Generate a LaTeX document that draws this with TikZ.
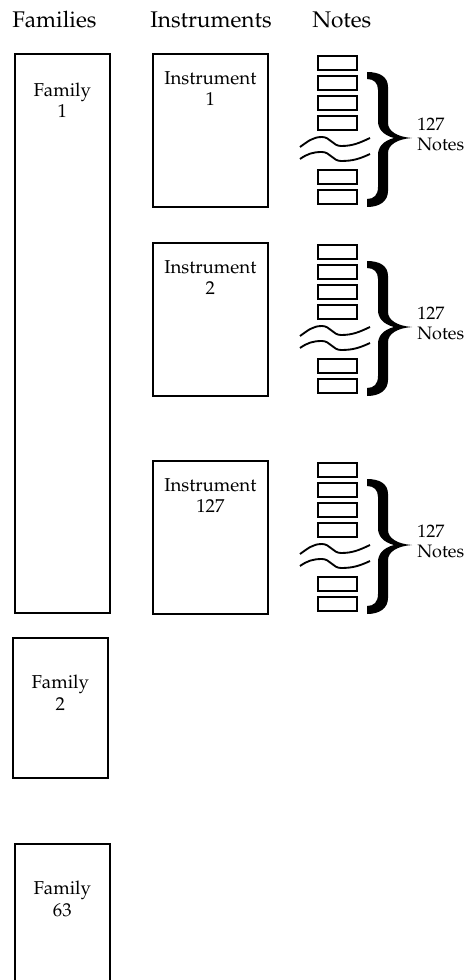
\documentclass[tikz,border=0pt]{standalone}
\usepackage[T1]{fontenc}
\usepackage{mathpazo}
\usetikzlibrary{positioning}
\tikzset{
  head/.style={anchor=base west,inner sep=0pt,font=\fontsize{17}{20}\selectfont},
  txt/.style={anchor=north,align=center,inner sep=0pt,font=\fontsize{14}{16}\selectfont},
  lbl/.style={anchor=north west,align=left,inner sep=0pt,font=\fontsize{13.5}{14.5}\selectfont},
  fambox/.style={draw,line width=1.5pt,anchor=north west,inner sep=0pt,minimum width=71pt},
  insbox/.style={draw,line width=1.5pt,anchor=north west,inner sep=0pt,minimum width=86pt,minimum height=114.75pt},
  notebox/.style={draw,line width=1.3pt,anchor=north west,inner sep=0pt,minimum width=29.25pt,minimum height=10.5pt},
  wave/.style={line width=1.4pt},
  curly/.style={fill=black,draw=none},
}
\begin{document}
\begin{tikzpicture}[x=0.75pt,y=0.75pt]
  \useasboundingbox (0,0) rectangle (474,-980);
  \clip (0,0) rectangle (474,-980);
  % column heads
  \node[head] (hfam) at (12,-28) {Families};
  \node[head] (hins) at (150,-28) {Instruments};
  \node[head] (hnot) at (312,-28) {Notes};
  % families
  \node[fambox,minimum height=419.25pt] (fam1) at (14,-53) {};
  \node[fambox,minimum height=105pt] (fam2) at (12,-637) {};
  \node[fambox,minimum height=115pt] (fam63) at (14,-843) {};
  \node[txt] (fam1-t) at ([yshift=-22pt]fam1.north) {Family\\1};
  \node[txt] (fam2-t) at ([yshift=-28.5pt]fam2.north) {Family\\2};
  \node[txt] (fam63-t) at ([yshift=-28.5pt]fam63.north) {Family\\63};
  % instruments with their notes
  \foreach \T/\k in {53/1,242/2,460/127}{
    \node[insbox] (ins\k) at (152,-\T) {};
    \node[txt] (ins\k-t) at ([yshift=-13.5pt]ins\k.north) {Instrument\\\k};
    \foreach \o [count=\i] in {2,22,42,62,116,136}
      \node[notebox] (n\k-\i) at (317,-\T-\o) {};
    \draw[wave] (300,-\T-94) to[out=35,in=180] (322,-\T-84) to[out=0,in=180] (341,-\T-93) to[out=0,in=205] (370,-\T-85);
    \draw[wave] (300,-\T-106) to[out=35,in=180] (322,-\T-99) to[out=0,in=180] (341,-\T-108) to[out=0,in=205] (370,-\T-101);
    % the big brace
    \begin{scope}[shift={(367,-\T)}]
      \fill[curly] (0,-19) .. controls (13,-19) and (21,-24) .. (21,-34) -- (21,-70)
        .. controls (21,-78) and (30,-84) .. (45,-85)
        .. controls (30,-86) and (21,-92) .. (21,-100) -- (21,-138)
        .. controls (21,-148) and (13,-154) .. (0,-154) -- (0,-146)
        .. controls (7,-146) and (11,-142) .. (11,-134) -- (11,-102)
        .. controls (11,-94) and (16,-88) .. (27,-85)
        .. controls (16,-82) and (11,-76) .. (11,-68) -- (11,-37)
        .. controls (11,-30) and (7,-26) .. (0,-26) -- cycle;
    \end{scope}
    \node[lbl] (lab\k) at (417,-\T-65) {127\\Notes};
  }
\end{tikzpicture}
\end{document}
